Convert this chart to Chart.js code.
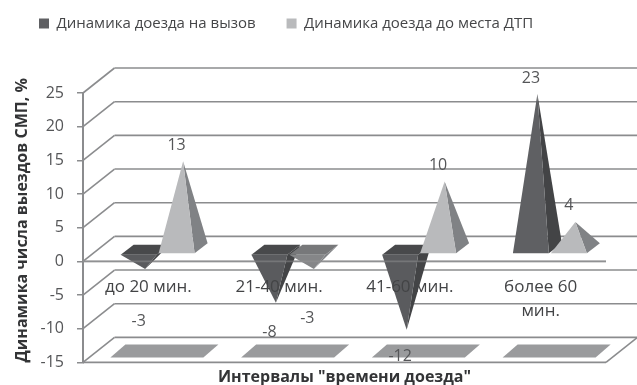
<!DOCTYPE html>
<html lang="ru">
<head>
<meta charset="utf-8">
<title>Динамика числа выездов СМП</title>
<style>
  html, body { margin: 0; padding: 0; background: #fff; }
  #box { position: relative; width: 637px; height: 385px; }
</style>
<script src="https://cdn.jsdelivr.net/npm/chart.js@4/dist/chart.umd.js"></script>
</head>
<body>
<div id="box"><canvas id="chart" width="637" height="385"></canvas></div>
<script>
// Chart data
const categories = ["до 20 мин.", "21-40 мин.", "41-60 мин.", ["более 60", "мин."]];
const callArrival = [-3, -8, -12, 23];
const crashArrival = [13, -3, 10, 4];
const yTickStep = 5;

// Oblique projection of the 3D box and of a pyramid's footprint
const WALL_DX = 31.5, WALL_DY = 25;
const BASE_DX = 13, BASE_DY = 10;
const FONT = '"Open Sans", sans-serif';
const TEXT = '#555658';
const RULE = '#8b8c8e';

class PyramidElement extends Chart.BarElement {
  static id = 'pyramid';
  static defaults = { sideColor: '#444', capColor: '#444', invertedColor: '#444' };

  draw(ctx) {
    const { x, y, base, width, options } = this;
    const cx = x + WALL_DX / 2, midY = base - WALL_DY / 2, tipY = y - WALL_DY / 2;
    const fl = [cx - width / 2 - BASE_DX / 2, midY + BASE_DY / 2];
    const fr = [cx + width / 2 - BASE_DX / 2, midY + BASE_DY / 2];
    const br = [fr[0] + BASE_DX, midY - BASE_DY / 2];
    const bl = [fl[0] + BASE_DX, midY - BASE_DY / 2];
    const tip = [cx, tipY];
    const poly = (pts, color) => {
      ctx.fillStyle = color;
      ctx.beginPath();
      pts.forEach((p, i) => i ? ctx.lineTo(p[0], p[1]) : ctx.moveTo(p[0], p[1]));
      ctx.closePath();
      ctx.fill();
    };
    const inverted = tipY > midY;
    ctx.save();
    if (inverted) poly([fl, fr, br, bl], options.capColor);
    poly([fr, br, tip], options.sideColor);
    poly([fl, fr, tip], inverted ? options.invertedColor : options.backgroundColor);
    ctx.restore();
  }
}

class PyramidController extends Chart.BarController {
  static id = 'pyramid';
  static defaults = { dataElementType: 'pyramid' };

  // Chart.js paints the last series first; the second series has to overlap the
  // first, so each call paints the series at the mirrored position in the list.
  draw() {
    const metas = this.chart.getSortedVisibleDatasetMetas();
    const other = metas[metas.length - 1 - metas.indexOf(this._cachedMeta)];
    other.data.forEach(el => el.draw(this.chart.ctx));
  }
}
Chart.register(PyramidElement, PyramidController);

// Walls, floor and the soft category shadows behind the pyramids
const boxPlugin = {
  id: 'box3d',
  afterLayout(chart) {
    chart.legend.left = 8;
    chart.legend.top = -15;
  },
  beforeDatasetsDraw(chart) {
    const { ctx, chartArea: a, scales: { x, y } } = chart;
    ctx.save();
    ctx.strokeStyle = RULE;
    ctx.lineWidth = 1.6;
    const seg = (x0, y0, x1, y1) => {
      ctx.beginPath();
      ctx.moveTo(x0, y0);
      ctx.lineTo(x1, y1);
      ctx.stroke();
    };
    y.ticks.forEach(t => {
      const py = y.getPixelForValue(t.value);
      seg(a.left, py, a.left + WALL_DX, py - WALL_DY);
      seg(a.left + WALL_DX, py - WALL_DY, a.right + WALL_DX, py - WALL_DY);
    });
    const zero = y.getPixelForValue(0);
    const floor = y.getPixelForValue(y.min);
    seg(a.left, zero, a.right, zero);
    seg(a.left, floor, a.right, floor);
    seg(a.right, floor, a.right + WALL_DX, floor - WALL_DY);
    ctx.fillStyle = '#9a9b9d';
    categories.forEach((c, i) => {
      const cx = x.getPixelForTick(i);
      ctx.beginPath();
      ctx.moveTo(cx - 38, floor - 5);
      ctx.lineTo(cx + 55, floor - 5);
      ctx.lineTo(cx + 70, floor - 18);
      ctx.lineTo(cx - 23, floor - 18);
      ctx.closePath();
      ctx.fill();
    });
    ctx.restore();
  },
  afterDatasetsDraw(chart) {
    const { ctx, chartArea: a, scales: { y } } = chart;
    const zero = y.getPixelForValue(0);
    ctx.save();
    // The zero plane edge shows faintly through the pyramids
    ctx.strokeStyle = 'rgba(150,151,153,0.45)';
    ctx.lineWidth = 1.6;
    ctx.beginPath();
    ctx.moveTo(a.left, zero);
    ctx.lineTo(a.right, zero);
    ctx.stroke();
    // Value labels
    const drops = { '0:0': 52, '0:1': 30, '0:2': 27, '1:1': 49 };
    ctx.font = '16px ' + FONT;
    ctx.fillStyle = TEXT;
    ctx.textAlign = 'center';
    ctx.textBaseline = 'middle';
    chart.data.datasets.forEach((ds, d) => {
      chart.getDatasetMeta(d).data.forEach((el, i) => {
        const tipX = el.x + WALL_DX / 2, tipY = el.y - WALL_DY / 2;
        const v = ds.data[i];
        const ly = v >= 0 ? tipY - 16 : tipY + drops[d + ':' + i];
        ctx.fillText(String(v), tipX - 6.5, ly);
      });
    });
    ctx.restore();
  }
};

new Chart(document.getElementById('chart'), {
  type: 'pyramid',
  data: {
    labels: categories,
    datasets: [
      { label: 'Динамика доезда на вызов', data: callArrival, clip: false,
        backgroundColor: '#5f6063', sideColor: '#434446', capColor: '#48494b', invertedColor: '#5a5b5e' },
      { label: 'Динамика доезда до места ДТП', data: crashArrival, clip: false,
        backgroundColor: '#b9babc', sideColor: '#808285', capColor: '#77787a', invertedColor: '#858688' }
    ]
  },
  plugins: [boxPlugin],
  options: {
    responsive: false,
    animation: false,
    categoryPercentage: 0.581,
    barPercentage: 0.947,
    layout: { padding: { top: 37, right: 31, bottom: 0, left: 0 } },
    plugins: {
      tooltip: { enabled: false },
      legend: {
        position: 'top',
        align: 'start',
        labels: {
          boxWidth: 10,
          boxHeight: 10,
          padding: 31,
          color: '#454648',
          font: { family: FONT, size: 15 }
        }
      }
    },
    scales: {
      x: {
        afterFit(s) { s.height = 22; s.paddingLeft = 0; s.paddingRight = 0; },
        grid: { display: false },
        border: { display: false },
        ticks: {
          z: 1,
          mirror: true,
          padding: 63,
          autoSkip: false,
          maxRotation: 0,
          color: '#434446',
          font: { family: FONT, size: 17, lineHeight: 1.41 }
        },
        title: {
          display: true,
          text: 'Интервалы "времени доезда"',
          color: '#333436',
          padding: { top: 0, bottom: -3 },
          font: { family: FONT, size: 16, weight: 'bold' }
        }
      },
      y: {
        min: -15,
        max: 25,
        afterFit(s) { s.width = 83; },
        grid: { drawOnChartArea: false, color: RULE, tickLength: 6, lineWidth: 1.5 },
        border: { color: RULE, width: 2 },
        ticks: {
          stepSize: yTickStep,
          padding: 13,
          color: TEXT,
          font: { family: FONT, size: 16 }
        },
        title: {
          display: true,
          text: 'Динамика числа выездов СМП, %',
          align: 'start',
          color: '#333436',
          padding: { top: 13, bottom: 0 },
          font: { family: FONT, size: 16, weight: 'bold' }
        }
      }
    }
  }
});
</script>
</body>
</html>
